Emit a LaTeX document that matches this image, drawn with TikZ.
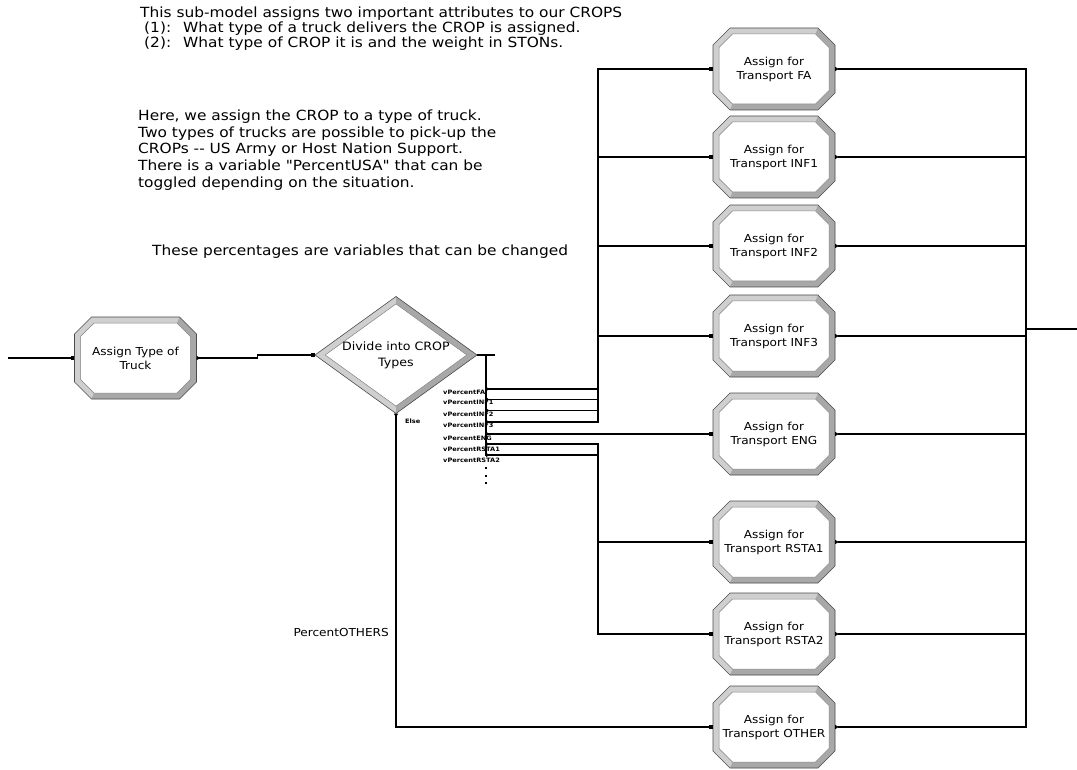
\documentclass[tikz,border=0pt]{standalone}
\usepackage{fontspec}
\newfontfamily\dv{DejaVu Sans}[FakeStretch=1.1]
\usetikzlibrary{arrows.meta,calc}

\tikzset{
  conn/.style={line width=1.1pt, draw=black},
  entry/.style={-{Square[length=3.5pt,width=3.5pt]}},
  exitonly/.style={{Triangle[reversed,length=3.5pt,width=4pt]}-},
  io/.style={{Triangle[reversed,length=3.5pt,width=4pt]}-{Square[length=3.5pt,width=3.5pt]}},
  bandlight/.style={fill=gray!38},
  banddark/.style={fill=gray!68},
  bandinner/.style={fill=white, draw=black!50, line width=0.5pt},
  bandouter/.style={draw=black!70, line width=0.6pt},
  boxtext/.style={font=\dv\fontsize{11}{14}\selectfont, align=center, inner sep=0pt,
    minimum width=122pt, minimum height=82pt},
  dtext/.style={font=\dv\fontsize{11.5}{16}\selectfont, align=center, inner sep=0pt,
    minimum width=162pt, minimum height=117pt},
  noteA/.style={font=\dv\fontsize{14}{15}\selectfont, align=left, anchor=north west, inner sep=0pt},
  noteB/.style={font=\dv\fontsize{14}{16.75}\selectfont, align=left, anchor=north west, inner sep=0pt},
  lbl/.style={font=\dv\fontsize{11}{13}\selectfont, inner sep=0pt},
  tinylbl/.style={font=\dv\bfseries\fontsize{6}{7}\selectfont, inner sep=0pt, anchor=west},
}

\newcommand\abox[4]{%
  \begin{scope}[shift={(#2,#3)}]
    \fill[bandlight] (-44,-41)--(44,-41)--(61,-24)--(61,24)--(44,41)--(-44,41)--(-61,24)--(-61,-24)--cycle;
    \fill[banddark] (44,-41)--(61,-24)--(61,24)--(44,41)--(-44,41)--(-41.5,35)--(41.5,35)--(55,21.5)--(55,-21.5)--(41.5,-35)--cycle;
    \draw[bandinner] (-41.5,-35)--(41.5,-35)--(55,-21.5)--(55,21.5)--(41.5,35)--(-41.5,35)--(-55,21.5)--(-55,-21.5)--cycle;
    \draw[bandouter] (-44,-41)--(44,-41)--(61,-24)--(61,24)--(44,41)--(-44,41)--(-61,24)--(-61,-24)--cycle;
    \node[boxtext] (#1) at (0,0) {#4};
  \end{scope}}

\begin{document}
\begin{tikzpicture}[x=1pt,y=-1pt]
\useasboundingbox (0,0) rectangle (1077,770);

% notes
\node[noteA] (t1) at (140,7) {This sub-model assigns two important attributes to our CROPS\\
\hspace*{4pt}(1):\hspace*{12pt}What type of a truck delivers the CROP is assigned.\\
\hspace*{4pt}(2):\hspace*{12pt}What type of CROP it is and the weight in STONs.};
\node[noteB] (t2) at (138,109.5) {Here, we assign the CROP to a type of truck.\\
Two types of trucks are possible to pick-up the\\
CROPs -- US Army or Host Nation Support.\\
There is a variable "PercentUSA" that can be\\
toggled depending on the situation.};
\node[noteA] (t3) at (152,244.5) {These percentages are variables that can be changed};

% first box
\abox{tt}{135.5}{358}{Assign Type of\\Truck}

% diamond
\begin{scope}[shift={(396,355)}]
  \fill[bandlight] (0,-58.5)--(81,0)--(0,58.5)--(-81,0)--cycle;
  \fill[banddark] (0,-58.5)--(81,0)--(0,58.5)--(0,51.1)--(70.8,0)--(0,-51.1)--cycle;
  \draw[bandinner] (0,-51.1)--(70.8,0)--(0,51.1)--(-70.8,0)--cycle;
  \draw[bandouter] (0,-58.5)--(81,0)--(0,58.5)--(-81,0)--cycle;
  \node[dtext] (dd) at (0,0) {Divide into CROP\\Types};
\end{scope}

% assign boxes
\abox{fa}{774}{69}{Assign for\\Transport FA}
\abox{inf1}{774}{157}{Assign for\\Transport INF1}
\abox{inf2}{774}{246}{Assign for\\Transport INF2}
\abox{inf3}{774}{336}{Assign for\\Transport INF3}
\abox{eng}{774}{434}{Assign for\\Transport ENG}
\abox{rsta1}{774}{542}{Assign for\\Transport RSTA1}
\abox{rsta2}{774}{634}{Assign for\\Transport RSTA2}
\abox{oth}{774}{727}{Assign for\\Transport OTHER}

% coordinates
\coordinate (inL) at (8,358);
\coordinate (bar) at (486,355);
\coordinate (xcol) at (598,0);
\coordinate (o1) at (486,389);
\coordinate (o2) at (486,399.5);
\coordinate (o3) at (486,410.5);
\coordinate (o4) at (486,422);
\coordinate (o5) at (486,434);
\coordinate (o6) at (486,444);
\coordinate (o7) at (486,455);
\coordinate (merge) at (1026,329);
\coordinate (outR) at (1077,329);

% connectors
\draw[conn,entry] (inL) -- (tt.west);
\draw[conn,io] (tt.east) -- ++(61,0) |- (dd.west);
\draw[conn] (dd.east) -- ++(18,0);
\draw[conn] (bar) -- ++(0,101);
\foreach \yy in {467,474.5,482} \fill (484.8,\yy) rectangle ++(2.4,2.4);

\draw[conn,io] (o1) -- (o1 -| xcol) |- (fa.west);
\draw[conn,io] (o2) -- (o2 -| xcol) |- (inf1.west);
\draw[conn,io] (o3) -- (o3 -| xcol) |- (inf2.west);
\draw[conn,io] (o4) -- (o4 -| xcol) |- (inf3.west);
\draw[conn,io] (o5) -- (eng.west);
\draw[conn,io] (o6) -- (o6 -| xcol) |- (rsta1.west);
\draw[conn,io] (o7) -- (o7 -| xcol) |- (rsta2.west);
\draw[conn,io] (dd.south) |- (oth.west);

\foreach \b in {fa,inf1,inf2,inf3,eng,rsta1,rsta2,oth}
  \draw[conn,exitonly] (\b.east) -| (merge);
\draw[conn] (merge) -- (outR);

% labels
\node[tinylbl] (l1) at (443,392) {vPercentFA};
\node[tinylbl] (l2) at (443,402.5) {vPercentINF1};
\node[tinylbl] (l3) at (443,414) {vPercentINF2};
\node[tinylbl] (l4) at (443,425.5) {vPercentINF3};
\node[tinylbl] (l5) at (443,438) {vPercentENG};
\node[tinylbl] (l6) at (443,449) {vPercentRSTA1};
\node[tinylbl] (l7) at (443,460) {vPercentRSTA2};
\node[tinylbl] (le) at (405,421) {Else};
\node[lbl,anchor=east] (pot) at (389,632) {PercentOTHERS};
\end{tikzpicture}
\end{document}
